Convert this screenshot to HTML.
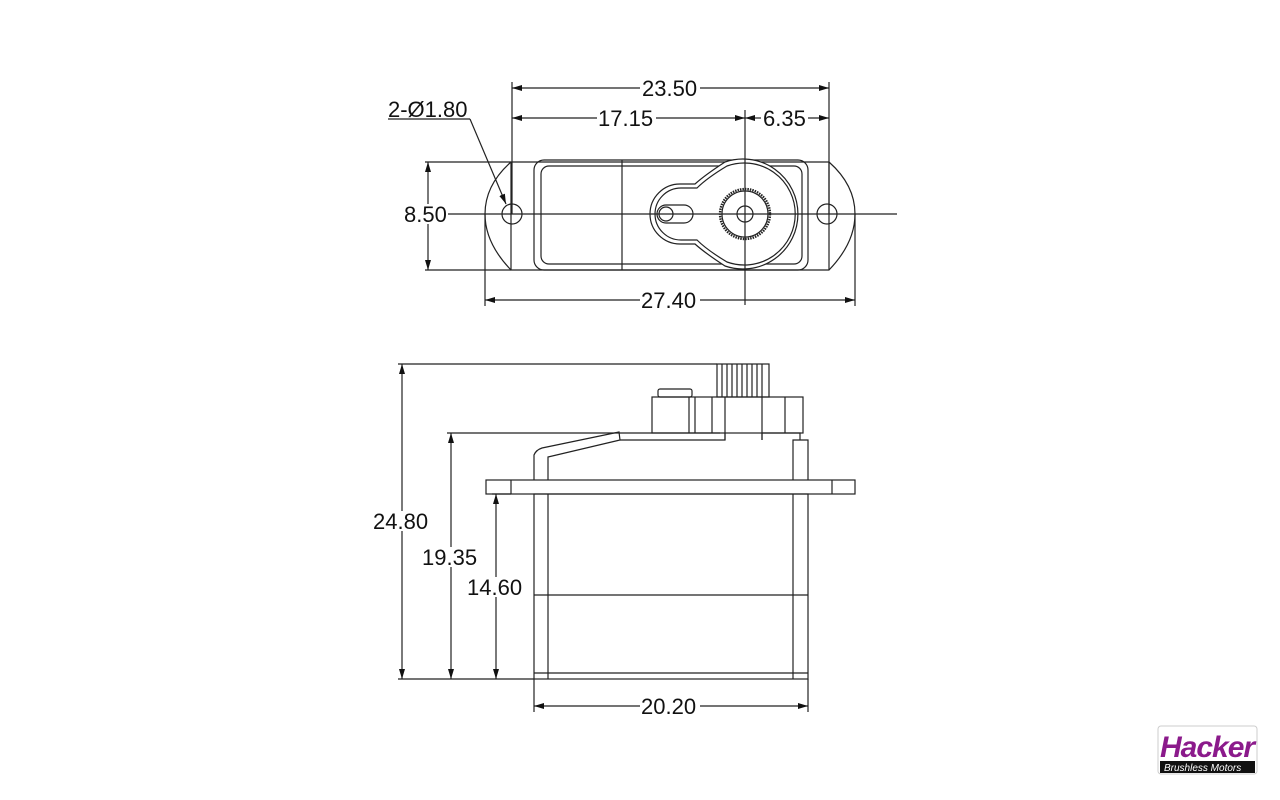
<!DOCTYPE html>
<html><head><meta charset="utf-8"><style>
html,body{margin:0;padding:0;background:#fff;width:1280px;height:800px;overflow:hidden}
svg text.d{font-family:"Liberation Sans",sans-serif;font-size:22px;fill:#111}
</style></head><body>
<svg width="1280" height="800" viewBox="0 0 1280 800" xmlns="http://www.w3.org/2000/svg">
<defs>
<marker id="a" viewBox="0 0 10 6" refX="10" refY="3" markerWidth="10" markerHeight="6" orient="auto-start-reverse" markerUnits="userSpaceOnUse"><path d="M0,0 L10,3 L0,6z" fill="#111"/></marker>
</defs>
<g stroke="#222" stroke-width="1.2" fill="none">
<!-- TOP VIEW -->
<path d="M511,162 L829,162 Q855,185 855,214 Q855,243 829,270 L511,270 Q485,243 485,214 Q485,185 511,162Z"/>
<line x1="511" y1="162" x2="511" y2="270"/>
<line x1="829" y1="162" x2="829" y2="270"/>
<rect x="534" y="160" width="274" height="110" rx="10"/>
<rect x="541" y="166" width="261" height="98" rx="8"/>
<line x1="622" y1="160" x2="622" y2="270"/>
<circle cx="512" cy="214" r="10"/>
<circle cx="827" cy="214" r="10"/>
<path d="M725,162 A55,55 0 1 1 725,266 Q705,253 695,244 L680,244 A30,30 0 0 1 680,184 L695,184 Q705,175 725,162Z" fill="#fff"/>
<path d="M727,166 A51,51 0 1 1 727,262 Q707,250 697,240 L681,240 A26,26 0 0 1 681,188 L697,188 Q707,178 727,166Z"/>
<path d="M666,205 L684,205 A9,9 0 0 1 684,223 L666,223 A9,9 0 0 1 666,205Z"/>
<circle cx="666" cy="214" r="7"/>
<circle cx="745" cy="214" r="25" stroke-width="2.4" stroke-dasharray="1.5 1"/>
<circle cx="745" cy="214" r="23"/>
<circle cx="745" cy="214" r="8"/>
<line x1="448" y1="214" x2="897" y2="214"/>
<!-- dims top -->
<line x1="512" y1="82" x2="512" y2="214"/>
<line x1="829" y1="82" x2="829" y2="214"/>
<line x1="745" y1="110" x2="745" y2="305"/>
<line x1="485" y1="214" x2="485" y2="306"/>
<line x1="855" y1="214" x2="855" y2="306"/>
<line x1="425" y1="162" x2="511" y2="162"/>
<line x1="425" y1="270" x2="511" y2="270"/>
<line x1="512" y1="88" x2="640" y2="88" marker-start="url(#a)"/>
<line x1="700" y1="88" x2="829" y2="88" marker-end="url(#a)"/>
<line x1="512" y1="118" x2="597" y2="118" marker-start="url(#a)"/>
<line x1="656" y1="118" x2="745" y2="118" marker-end="url(#a)"/>
<line x1="745" y1="118" x2="761" y2="118" marker-start="url(#a)"/>
<line x1="808" y1="118" x2="829" y2="118" marker-end="url(#a)"/>
<line x1="485" y1="300" x2="640" y2="300" marker-start="url(#a)"/>
<line x1="700" y1="300" x2="855" y2="300" marker-end="url(#a)"/>
<line x1="428" y1="162" x2="428" y2="270" marker-start="url(#a)" marker-end="url(#a)"/>
<line x1="388" y1="119" x2="470" y2="119"/>
<line x1="470" y1="119" x2="506" y2="204" marker-end="url(#a)"/>
<!-- SIDE VIEW -->
<rect x="486" y="480" width="369" height="14"/>
<line x1="511" y1="480" x2="511" y2="494"/>
<line x1="832" y1="480" x2="832" y2="494"/>
<rect x="534" y="494" width="274" height="185"/>
<line x1="548" y1="494" x2="548" y2="679"/>
<line x1="793" y1="494" x2="793" y2="679"/>
<line x1="534" y1="595" x2="808" y2="595"/>
<line x1="534" y1="673" x2="808" y2="673"/>
<path d="M534,480 L534,455 Q536,450 542,448 L619,432 L620,440 L548,457 L548,480"/>
<line x1="620" y1="433" x2="720" y2="433"/>
<path d="M620,440 L725,440 L725,433"/>
<path d="M793,480 L793,440 L808,440 L808,480"/>
<path d="M762,440 L762,433 L800,433 L800,440"/>
<rect x="652" y="397" width="151" height="36"/>
<line x1="689" y1="397" x2="689" y2="433"/>
<line x1="695" y1="397" x2="695" y2="433"/>
<line x1="712" y1="397" x2="712" y2="433"/>
<line x1="725" y1="397" x2="725" y2="440"/>
<line x1="762" y1="397" x2="762" y2="440"/>
<line x1="785" y1="397" x2="785" y2="433"/>
<rect x="658" y="389" width="34" height="8" rx="2"/>
<rect x="717" y="364" width="52" height="33"/>
<path d="M722,364v33M727,364v33M732,364v33M737,364v33M742,364v33M747,364v33M752,364v33M757,364v33M762,364v33"/>
<!-- dims side -->
<line x1="398" y1="364" x2="717" y2="364"/>
<line x1="447" y1="433" x2="620" y2="433"/>
<line x1="492" y1="494" x2="511" y2="494"/>
<line x1="398" y1="679" x2="534" y2="679"/>
<line x1="402" y1="364" x2="402" y2="679" marker-start="url(#a)" marker-end="url(#a)"/>
<line x1="451" y1="433" x2="451" y2="679" marker-start="url(#a)" marker-end="url(#a)"/>
<line x1="496" y1="494" x2="496" y2="679" marker-start="url(#a)" marker-end="url(#a)"/>
<line x1="534" y1="679" x2="534" y2="712"/>
<line x1="808" y1="679" x2="808" y2="712"/>
<line x1="534" y1="706" x2="640" y2="706" marker-start="url(#a)"/>
<line x1="700" y1="706" x2="808" y2="706" marker-end="url(#a)"/>
</g>
<g fill="#fff">
<rect x="405" y="204" width="42" height="20"/>
<rect x="374" y="511" width="56" height="20"/>
<rect x="423" y="547" width="56" height="20"/>
<rect x="468" y="577" width="56" height="20"/>
</g>
<g>
<text class="d" x="642" y="96">23.50</text>
<text class="d" x="598" y="126">17.15</text>
<text class="d" x="763" y="126">6.35</text>
<text class="d" x="641" y="308">27.40</text>
<text class="d" x="404" y="222">8.50</text>
<text class="d" x="388" y="117">2-Ø1.80</text>
<text class="d" x="373" y="529">24.80</text>
<text class="d" x="422" y="565">19.35</text>
<text class="d" x="467" y="595">14.60</text>
<text class="d" x="641" y="714">20.20</text>
</g>
<!-- logo -->
<rect x="1158" y="726" width="99" height="48" rx="3" fill="#fff" stroke="#ccc"/>
<text x="1160" y="757" style="font-family:'Liberation Sans',sans-serif;font-size:30px;font-weight:bold;font-style:italic;fill:#8b1a8b;letter-spacing:-1px">Hacker</text>
<rect x="1160" y="761" width="95" height="12" fill="#111"/>
<text x="1164" y="771" style="font-family:'Liberation Sans',sans-serif;font-size:10px;font-style:italic;fill:#fff">Brushless Motors</text>
</svg>
</body></html>
